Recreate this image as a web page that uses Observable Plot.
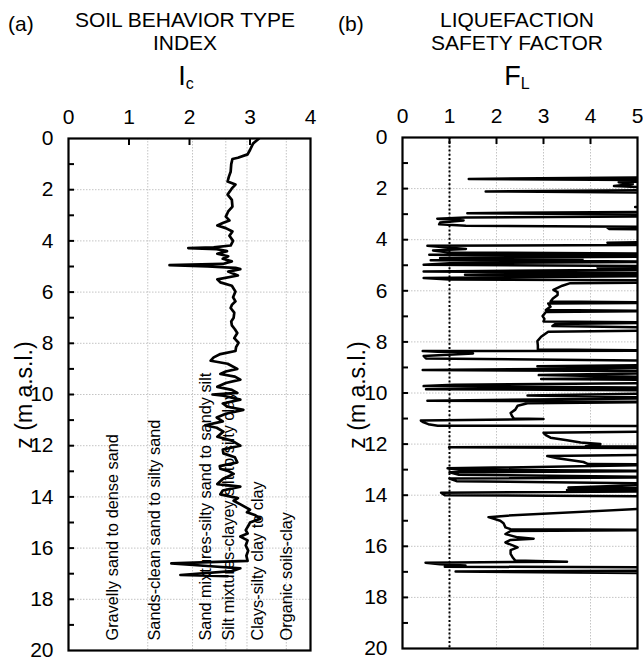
<!DOCTYPE html>
<html><head><meta charset="utf-8">
<script src="https://cdn.jsdelivr.net/npm/d3@7"></script>
<script src="https://cdn.jsdelivr.net/npm/@observablehq/plot@0.6"></script>
<style>
body{margin:0;background:#fff;}
#wrap{position:relative;width:643px;height:660px;font-family:"Liberation Sans",Arial,sans-serif;color:#000;overflow:hidden;}
.t{position:absolute;white-space:nowrap;line-height:1;}
.title{position:absolute;white-space:nowrap;text-align:center;font-size:21px;line-height:23px;transform:translateX(-50%);}
.sym{position:absolute;white-space:nowrap;transform:translateX(-50%);line-height:1;}
.sym sub{font-size:16px;vertical-align:-4px;}
.ylab{position:absolute;white-space:nowrap;font-size:23px;line-height:1;transform:translate(-50%,-50%) rotate(-90deg);}
.panel{position:absolute;top:0;}
</style></head><body><div id="wrap">
<div class="t" style="left:8px;top:13px;font-size:21px;">(a)</div>
<div class="title" style="left:185px;top:8px;">SOIL BEHAVIOR TYPE<br>INDEX</div>
<div class="sym" style="left:186px;top:63px;"><span style="font-size:27px">I</span><sub>c</sub></div>
<div class="t" style="left:338px;top:13px;font-size:21px;">(b)</div>
<div class="title" style="left:517px;top:8px;">LIQUEFACTION<br>SAFETY FACTOR</div>
<div class="sym" style="left:517px;top:63px;"><span style="font-size:27px">F</span><sub>L</sub></div>
<div class="ylab" style="left:24px;top:395px;">z (m a.s.l.)</div>
<div class="ylab" style="left:357px;top:395px;">z (m a.s.l.)</div>
<div id="pa" class="panel" style="left:0px;"></div>
<div id="pb" class="panel" style="left:330px;"></div>
</div>
<script>
// ---------- data ----------
const icDepth = [0.0,0.2,0.45,0.62,0.75,0.8,1.0,1.3,1.5,1.68,1.8,1.95,2.19,2.4,2.66,2.85,3.05,3.2,3.3,3.4,3.5,3.63,3.8,4.0,4.18,4.25,4.28,4.32,4.4,4.5,4.6,4.7,4.8,4.9,4.95,5.0,5.05,5.1,5.2,5.35,5.5,5.62,5.75,5.98,6.2,6.36,6.5,6.62,6.8,7.0,7.15,7.3,7.45,7.6,7.8,7.98,8.15,8.3,8.42,8.55,8.68,8.8,9.0,9.1,9.2,9.3,9.42,9.55,9.7,9.82,9.94,10.0,10.05,10.2,10.35,10.48,10.6,10.75,10.9,11.05,11.2,11.3,11.45,11.65,11.8,12.0,12.15,12.3,12.45,12.65,12.8,12.9,13.0,13.1,13.3,13.5,13.6,13.75,13.9,14.05,14.15,14.3,14.5,14.6,14.72,14.85,15.0,15.1,15.3,15.43,15.55,15.7,15.9,16.1,16.3,16.5,16.6,16.7,16.79,16.9,17.05,17.1];
const icValue = [3.15,3.05,3.0,2.96,2.8,2.71,2.69,2.68,2.65,2.63,2.76,2.7,2.63,2.7,2.71,2.64,2.6,2.66,2.55,2.46,2.6,2.71,2.66,2.72,2.68,2.4,1.98,2.45,2.62,2.46,2.64,2.55,2.7,2.55,1.67,2.3,2.76,2.84,2.64,2.8,2.46,2.51,2.7,2.76,2.72,2.76,2.7,2.68,2.74,2.73,2.69,2.7,2.75,2.79,2.74,2.81,2.77,2.76,2.51,2.4,2.35,2.63,2.79,2.6,2.51,2.75,2.84,2.6,2.46,2.7,2.79,2.38,2.56,2.84,2.55,2.63,2.89,2.6,2.45,2.55,2.26,2.45,2.56,2.46,2.7,2.84,2.55,2.56,2.75,2.79,2.5,2.51,2.65,2.73,2.55,2.46,2.84,2.55,2.51,2.8,2.73,2.85,3.0,2.95,3.09,3.17,3.0,2.98,2.93,2.96,2.84,2.96,2.93,2.97,2.94,2.96,1.7,2.3,2.84,2.7,1.85,2.63];

const flDepth = [0.0,1.5,1.55,1.62,1.68,1.75,1.82,1.9,1.95,2.05,2.11,2.17,2.7,2.72,2.75,2.9,2.96,3.02,3.08,3.13,3.18,3.25,3.33,3.4,3.45,3.5,3.53,3.58,3.62,4.08,4.12,4.16,4.2,4.24,4.3,4.36,4.42,4.5,4.55,4.59,4.65,4.72,4.76,4.8,4.86,4.92,4.98,5.04,5.1,5.16,5.24,5.3,5.37,5.42,5.5,5.56,5.6,5.68,5.7,5.8,5.96,6.05,6.16,6.3,6.42,6.46,6.5,6.62,6.75,6.79,6.83,6.99,7.1,7.2,7.24,7.3,7.38,7.45,7.55,7.6,7.8,7.97,8.15,8.3,8.34,8.36,8.45,8.55,8.65,8.75,8.9,8.95,9.0,9.05,9.1,9.15,9.2,9.3,9.4,9.45,9.5,9.6,9.68,9.73,9.8,9.85,9.9,10.0,10.1,10.2,10.3,10.35,10.4,10.5,10.65,10.78,10.9,11.0,11.02,11.08,11.15,11.22,11.28,11.3,11.5,11.56,11.65,11.75,11.85,11.94,12.0,12.08,12.1,12.12,12.16,12.4,12.47,12.55,12.7,12.78,12.8,12.95,13.0,13.05,13.1,13.2,13.3,13.35,13.45,13.55,13.7,13.75,13.8,13.85,13.9,14.0,14.05,14.45,14.8,14.86,15.0,15.1,15.26,15.33,15.36,15.4,15.52,15.65,15.7,15.75,15.85,16.04,16.15,16.3,16.45,16.56,16.6,16.64,16.7,16.75,16.8,16.82,16.95,16.99,17.06,17.1];
const flValue = [8,8,6,1.41,6,4.6,4.9,4.5,5.2,6,1.77,6,6,4.95,6,6,1.38,6,6,1.34,0.74,1.3,0.8,0.78,1.35,6,4.36,4.4,6,6,4.36,4.5,6,0.53,0.9,1.35,0.65,1.0,6,0.57,6,0.8,3.83,0.6,6,1.0,0.45,6,4.15,6,0.45,6,1.33,6,0.45,1.0,6,6,3.57,3.4,3.21,3.3,3.3,3.2,3.15,6,3.1,3.15,3.05,6,3.05,2.98,3.02,3.0,6,3.25,3.19,6,6,3.1,2.95,2.87,2.88,2.88,6,0.43,1.5,0.45,0.5,6,6,2.87,6,4.0,0.43,6,6,2.9,6,2.95,6,6,1.1,0.45,6,0.5,6,6,2.66,6,0.53,6,2.66,2.45,2.4,2.3,2.33,2.37,3.0,0.39,0.45,0.55,0.75,6,6,3.0,3.05,3.15,3.5,3.79,4.21,3.9,6,0.99,6,6,3.08,3.3,3.85,3.95,6,0.96,1.2,6,1.0,1.2,6,1.0,1.15,6,3.53,6,3.5,6,0.82,0.9,6,6,2.23,1.83,2.08,2.15,2.19,2.3,6,2.3,2.19,2.45,2.79,2.3,2.19,2.45,2.3,2.3,2.35,2.4,3.5,0.49,0.8,1.34,0.9,6,6,1.13,6,8];

const icTicks = [0,1,2,3,4];
const icInnerTicks = [1,2,3];
const flTicks = [0,1,2,3,4,5];
const flInnerTicks = [1,2,3,4];
const zTicks = [0,2,4,6,8,10,12,14,16,18,20];
const zMinor = [1,2,3,4,5,6,7,8,9,10,11,12,13,14,15,16,17,18,19];
const soilBounds = [1.31,2.05,2.6,2.95,3.6];
const soilNames = ["Gravelly sand to dense sand","Sands-clean sand to silty sand","Sand mixtures-silty sand to sandy silt","Silt mixtures-clayey silt to silty clay","Clays-silty clay to clay","Organic soils-clay"];
const soilLabelIc = [0.81,1.52,2.35,2.73,3.22,3.69];
const flThreshold = [1];

// ---------- chart ----------
const font = '"Liberation Sans", Arial, sans-serif';
const ic = icDepth.map((z, i) => ({z, v: icValue[i]}));
const fl = flDepth.map((z, i) => ({z, v: flValue[i]}));
const gridStyle = {stroke: "#c4c4c4", strokeOpacity: 1, strokeDasharray: "1.5,1.5", strokeWidth: 1};

function axes(xTicks, xInner) {
  return [
    Plot.axisX(xTicks, {anchor: "top", tickSize: 0, tickPadding: 15, fontSize: 21, label: null}),
    Plot.axisX(xInner, {anchor: "top", tickSize: -6, fill: "none", tickFormat: () => "", strokeWidth: 2, label: null}),
    Plot.axisY(zTicks, {anchor: "left", tickSize: 0, tickPadding: 15, fontSize: 21, label: null}),
    Plot.axisY(zMinor, {anchor: "left", tickSize: -6, fill: "none", tickFormat: () => "", strokeWidth: 2, label: null})
  ];
}

const plotA = Plot.plot({
  width: 320, height: 660,
  marginLeft: 68, marginRight: 10, marginTop: 138, marginBottom: 10,
  x: {domain: [0, 4], label: null},
  y: {domain: [0, 20], reverse: true, label: null},
  style: {fontFamily: font, background: "transparent", color: "#000", overflow: "visible"},
  marks: [
    Plot.gridY(zTicks, gridStyle),
    Plot.gridX(soilBounds, gridStyle),
    Plot.text(soilNames, {x: (d, i) => soilLabelIc[i], frameAnchor: "bottom", dy: -10, rotate: -90, textAnchor: "start", fontSize: 16.3, fill: "#000"}),
    Plot.line(ic, {x: "v", y: "z", stroke: "#000", strokeWidth: 2.7, clip: true}),
    Plot.frame({stroke: "#000", strokeWidth: 2.2}),
    ...axes(icTicks, icInnerTicks)
  ]
});

const plotB = Plot.plot({
  width: 313, height: 660,
  marginLeft: 72, marginRight: 6, marginTop: 137, marginBottom: 12,
  x: {domain: [0, 5], label: null},
  y: {domain: [0, 20], reverse: true, label: null},
  style: {fontFamily: font, background: "transparent", color: "#000", overflow: "visible"},
  marks: [
    Plot.gridY(zTicks, gridStyle),
    Plot.gridX(flInnerTicks, gridStyle),
    Plot.ruleX(flThreshold, {stroke: "#000", strokeWidth: 2, strokeDasharray: "2,2.2"}),
    Plot.line(fl, {x: "v", y: "z", stroke: "#000", strokeWidth: 2.5, clip: true}),
    Plot.frame({stroke: "#000", strokeWidth: 2.2}),
    ...axes(flTicks, flInnerTicks)
  ]
});

document.getElementById("pa").appendChild(plotA);
document.getElementById("pb").appendChild(plotB);
</script>
</body></html>
